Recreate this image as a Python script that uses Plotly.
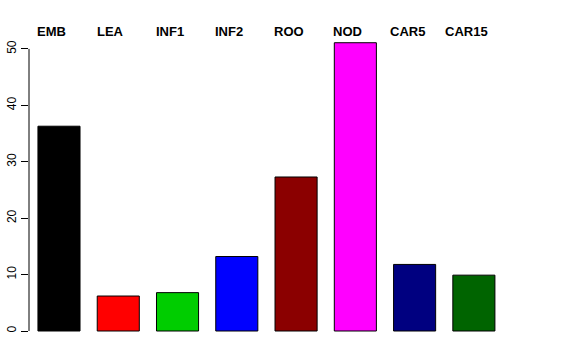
import plotly.graph_objects as go

categories = ["EMB", "LEA", "INF1", "INF2", "ROO", "NOD", "CAR5", "CAR15"]
values = [36.3, 6.2, 6.8, 13.2, 27.3, 51.1, 11.8, 9.9]
colors = ["#000000", "#FF0000", "#00CD00", "#0000FF", "#8B0000", "#FF00FF", "#000080", "#006400"]
ytick_vals = [0, 10, 20, 30, 40, 50]

xpos = list(range(len(categories)))

fig = go.Figure()
fig.add_trace(go.Bar(
    x=xpos, y=values,
    marker=dict(color=colors, line=dict(color="#000000", width=1)),
    width=0.71,
    hoverinfo="skip",
))

for i, c in enumerate(categories):
    fig.add_annotation(
        x=i - 0.125, y=1.0, xref="x", yref="paper",
        text="<b>%s</b>" % c, showarrow=False,
        yanchor="bottom", xanchor="center", yshift=-9,
        font=dict(family="Liberation Sans, Arial, sans-serif", size=13, color="#000000"),
    )

# y axis line from first to last tick (R style)
fig.add_shape(type="line", xref="paper", yref="y", x0=0, x1=0,
              y0=ytick_vals[0], y1=ytick_vals[-1],
              line=dict(color="#000000", width=1))

fig.update_layout(
    width=576, height=360,
    margin=dict(l=29, r=63, t=32, b=18, autoexpand=False),
    paper_bgcolor="white", plot_bgcolor="white",
    showlegend=False,
    font=dict(family="Liberation Sans, Arial, sans-serif", size=12, color="#000000"),
    xaxis=dict(range=[-0.506, 7.66], showticklabels=False, showgrid=False,
               zeroline=False, showline=False, ticks="", automargin=False),
    yaxis=dict(range=[-1.95, 53.0], tickvals=ytick_vals, ticks="outside",
               ticklen=7, tickcolor="#000000", tickwidth=1, tickangle=-90,
               showgrid=False, zeroline=False, showline=False, automargin=False,
               tickfont=dict(size=12)),
)

fig.write_html("out.html", config={"displayModeBar": False},
               post_script="document.body.style.margin='0';document.body.style.overflow='hidden';")
